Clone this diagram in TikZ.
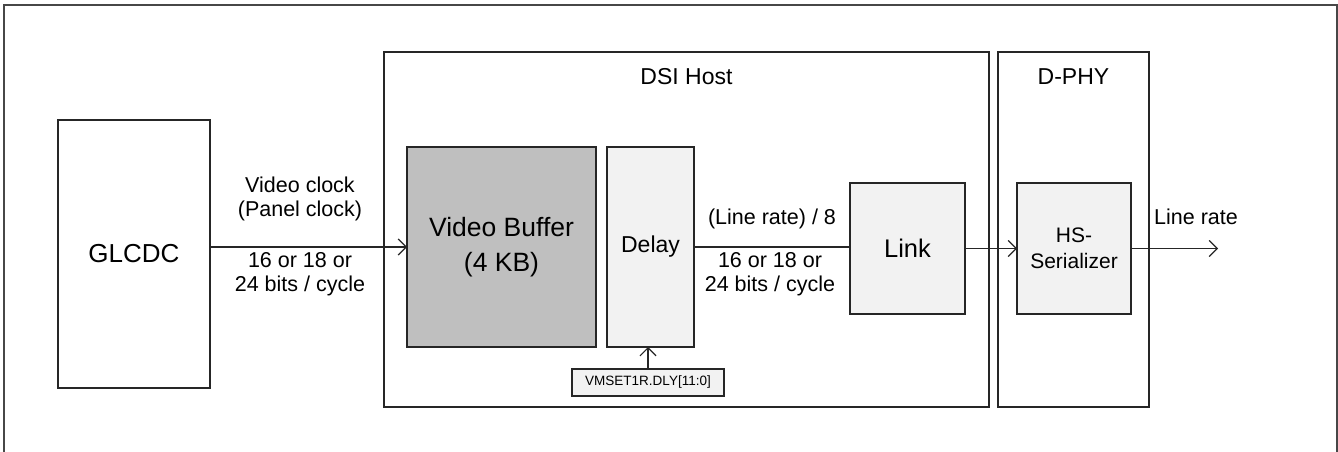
\documentclass[tikz,border=0pt]{standalone}
\usepackage{fontspec}
\setmainfont{Liberation Sans}
\usetikzlibrary{arrows.meta,positioning}
\definecolor{BufClr}{RGB}{191,191,191}
\definecolor{BlkClr}{RGB}{242,242,242}
\definecolor{EdgeClr}{RGB}{38,38,38}

\begin{document}
\begin{tikzpicture}[x=1pt,y=-1pt,
  blk/.style={draw=EdgeClr,line width=1.2pt,fill=BlkClr,outer sep=0pt,inner sep=0pt,align=center},
  grp/.style={draw=EdgeClr,line width=1.2pt,fill=white,outer sep=0pt},
  ttl/.style={font=\fontsize{23}{28}\selectfont,inner sep=0pt},
  lbl/.style={font=\fontsize{21.5}{24}\selectfont,align=center,inner sep=0pt},
  arr/.style={line width=1.2pt,draw=EdgeClr,-{Straight Barb[length=8pt,width=16pt]}},
  wire/.style={line width=1.2pt,draw=EdgeClr}]
\useasboundingbox (0,0) rectangle (1338,452);
\draw[line width=1.6pt,draw=EdgeClr!85] (4,5) rectangle (1337,470);

\node[grp,minimum width=605pt,minimum height=355pt] (dsi) at (686.5,229.5) {};
\node[grp,minimum width=151pt,minimum height=355pt] (dphy) at (1073.5,229.5) {};
\node[ttl,below=16pt of dsi.north] {DSI Host};
\node[ttl,below=16pt of dphy.north] {D-PHY};

\node[blk,fill=white,minimum width=152pt,minimum height=268pt,
  font=\fontsize{26}{30}\selectfont] (glcdc) at (134,254) {GLCDC};
\node[blk,fill=BufClr,minimum width=189pt,minimum height=200pt,
  font=\fontsize{26.5}{35}\selectfont] (buf) at (501.5,247) {Video Buffer\\(4 KB)};
\node[blk,minimum width=87pt,minimum height=200pt,
  font=\fontsize{23}{28}\selectfont] (delay) at (650.5,247) {Delay};
\node[blk,minimum width=115pt,minimum height=131pt,
  font=\fontsize{25.5}{30}\selectfont] (link) at (907.5,248.5) {Link};
\node[blk,minimum width=114pt,minimum height=131pt,
  font=\fontsize{21}{26}\selectfont] (hs) at (1074,248.5) {HS-\\Serializer};
\node[blk,minimum width=152pt,minimum height=27pt,
  font=\fontsize{13.5}{16}\selectfont] (vm) at (648,382.5) {VMSET1R.DLY[11:0]};
\coordinate (out) at (1218,248.5);

\draw[arr] (glcdc.east |- buf.west) -- (buf.west);
\draw[wire] (delay.east) -- (delay.east -| link.west);
\draw[arr] (link.east) -- (hs.west);
\draw[arr] (hs.east) -- (out);
\draw[arr] (vm.north) -- (vm.north |- delay.south);

\node[lbl] at (300,199) {Video clock\\(Panel clock)};
\node[lbl] at (300,274) {16 or 18 or\\24 bits / cycle};
\node[lbl] at (772,219) {(Line rate) / 8};
\node[lbl] at (770,274) {16 or 18 or\\24 bits / cycle};
\node[lbl] at (1196,217) {Line rate};

\end{tikzpicture}
\end{document}
